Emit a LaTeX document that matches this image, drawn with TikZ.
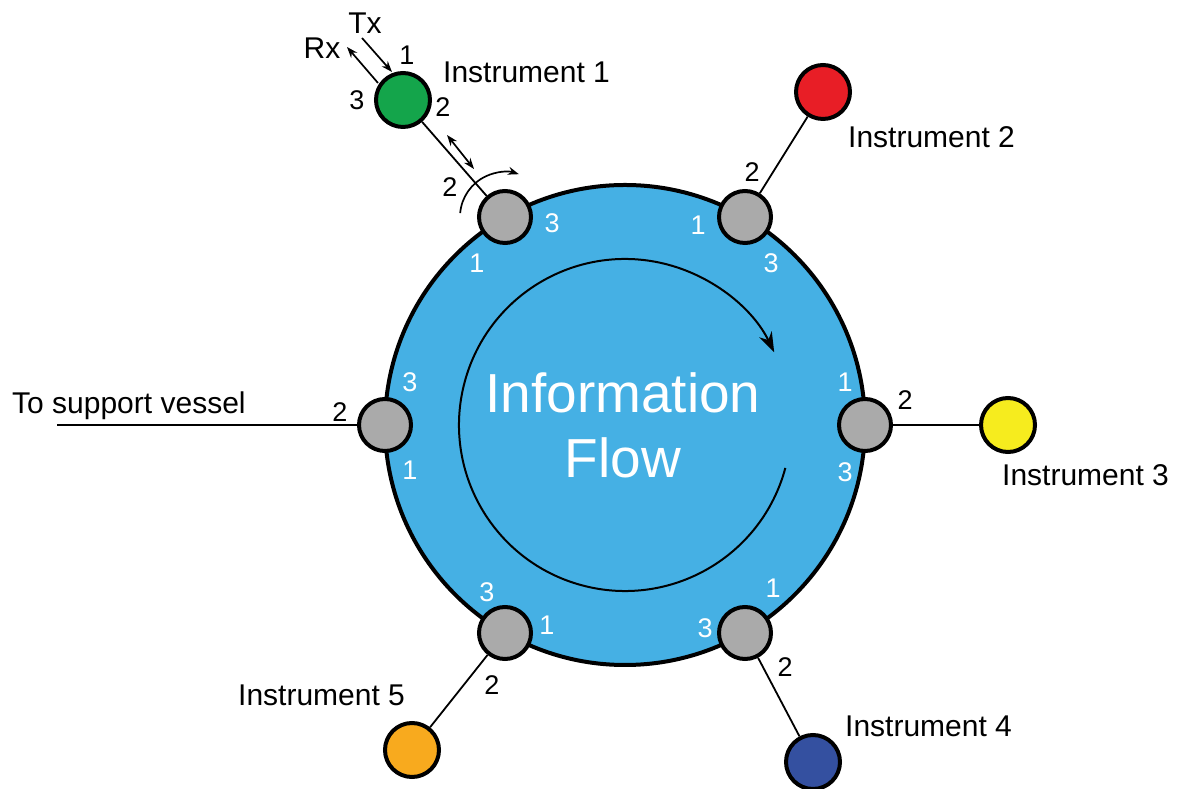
\documentclass[tikz,border=0pt]{standalone}
\usepackage{fontspec}
\setmainfont{Liberation Sans}
\usetikzlibrary{arrows.meta}
\definecolor{ringblue}{RGB}{69,176,228}
\definecolor{portgray}{RGB}{170,170,170}
\definecolor{igreen}{RGB}{20,165,75}
\definecolor{ired}{RGB}{232,30,38}
\definecolor{iyellow}{RGB}{246,236,30}
\definecolor{iblue}{RGB}{52,80,160}
\definecolor{iorange}{RGB}{248,170,30}
\begin{document}
\begin{tikzpicture}[x=1pt,y=1pt,
  port/.style={circle,draw=black,line width=4pt,fill=portgray,minimum size=52pt,inner sep=0pt},
  instr/.style={circle,draw=black,line width=4pt,minimum size=54pt,inner sep=0pt},
  wnum/.style={text=white,font=\fontsize{27}{32}\selectfont,inner sep=0pt},
  bnum/.style={text=black,font=\fontsize{27}{32}\selectfont,inner sep=0pt},
  lab/.style={font=\fontsize{30}{36}\selectfont,inner sep=0pt,anchor=base west},
  link/.style={line width=1.8pt},
  tip/.style={-{Stealth[length=11pt,width=8pt]},line width=1.7pt},
  dtip/.style={{Stealth[length=11pt,width=8pt]}-{Stealth[length=11pt,width=8pt]},line width=1.7pt}
]
\useasboundingbox (0,0) rectangle (1177,789);

% main ring
\node[circle,draw=black,line width=4pt,fill=ringblue,minimum size=480pt,inner sep=0pt] (ring) at (625,364) {};

% information flow arc
\draw[line width=2pt,-{Stealth[length=20pt,width=14pt]}] (625,364) ++(-15:166) arc[start angle=-15,end angle=-334,radius=166];
\node[text=white,font=\fontsize{55}{65}\selectfont,inner sep=0pt,anchor=base] (info) at (623,376) {Information};
\node[text=white,font=\fontsize{55}{65}\selectfont,inner sep=0pt,anchor=base] (flow) at (623,311) {Flow};

% gray port nodes
\node[port] (g1) at (505,572) {};
\node[port] (g2) at (745,572) {};
\node[port] (g3) at (865,364) {};
\node[port] (g4) at (745,156) {};
\node[port] (g5) at (505,156) {};
\node[port] (g6) at (385,364) {};

% instruments
\node[instr,fill=igreen] (i1) at (403,689) {};
\node[instr,fill=ired] (i2) at (823,697) {};
\node[instr,fill=iyellow] (i3) at (1008,364) {};
\node[instr,fill=iblue] (i4) at (813,27) {};
\node[instr,fill=iorange] (i5) at (412,39) {};

% links
\draw[link] (g1) -- (i1);
\draw[link] (g2) -- (i2);
\draw[link] (g3) -- (i3);
\draw[link] (g4) -- (i4);
\draw[link] (g5) -- (i5);
\coordinate (sv) at (57,364);
\draw[link] (sv) -- (g6);

% labels
\node[lab] (l1) at (443,706) {Instrument 1};
\node[lab] (l2) at (848,641) {Instrument 2};
\node[lab] (l3) at (1002,303) {Instrument 3};
\node[lab] (l4) at (845,52) {Instrument 4};
\node[lab] (l5) at (238,83) {Instrument 5};
\node[lab] (lsv) at (12,375) {To support vessel};

% port numbers
\node[wnum] at (552,566) {3};
\node[wnum] at (477,526) {1};
\node[bnum] at (450,602) {2};
\node[wnum] at (698,564) {1};
\node[wnum] at (771,526) {3};
\node[bnum] at (752,617) {2};
\node[wnum] at (845,407) {1};
\node[wnum] at (845,317) {3};
\node[bnum] at (905,389) {2};
\node[wnum] at (773,201) {1};
\node[wnum] at (705,161) {3};
\node[bnum] at (785,122) {2};
\node[wnum] at (487,197) {3};
\node[wnum] at (547,164) {1};
\node[bnum] at (492,104) {2};
\node[wnum] at (410,407) {3};
\node[wnum] at (410,319) {1};
\node[bnum] at (340,377) {2};
\node[bnum] at (407,734) {1};
\node[bnum] at (357,689) {3};
\node[bnum] at (443,682) {2};

% Tx / Rx
\node[font=\fontsize{30}{36}\selectfont,inner sep=0pt] (tx) at (365,766) {Tx};
\node[font=\fontsize{30}{36}\selectfont,inner sep=0pt] (rx) at (322,741) {Rx};
\coordinate (txs) at (362,751);
\coordinate (txe) at (392,717);
\coordinate (rxs) at (378,706);
\coordinate (rxe) at (347,742);
\draw[tip] (txs) -- (txe);
\draw[tip] (rxs) -- (rxe);
\coordinate (da) at (447,654);
\coordinate (db) at (474,620);
\draw[dtip] (da) -- (db);
\draw[tip] (g1.center) ++(175:45) arc[start angle=175,end angle=72,radius=45];
\end{tikzpicture}
\end{document}
